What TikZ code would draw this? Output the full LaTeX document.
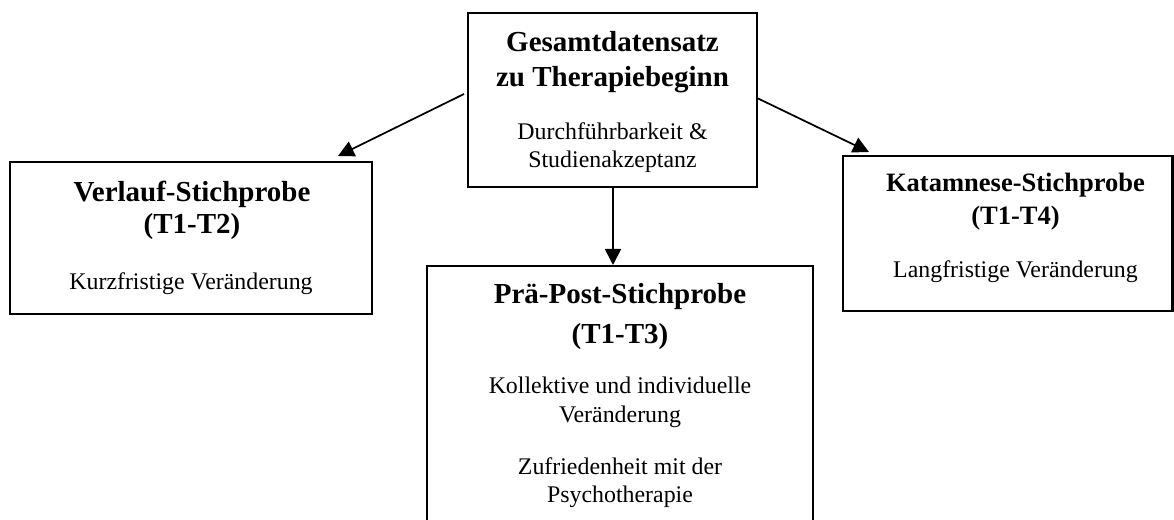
\documentclass[tikz,border=0pt]{standalone}
\usepackage{fontspec}
\setmainfont{Liberation Serif}
\usetikzlibrary{fit,calc,arrows.meta}
\tikzset{
  box/.style={draw=black, line width=1.6pt, inner sep=0pt, outer sep=0pt},
  conn/.style={line width=1.3pt, -{Triangle[length=12pt,width=12pt]}},
  bt/.style={font=\fontsize{21.75}{26}\selectfont\bfseries, anchor=base, inner sep=0pt},
  bts/.style={font=\fontsize{19.9}{24}\selectfont\bfseries, anchor=base, inner sep=0pt},
  nt/.style={font=\fontsize{17.9}{21}\selectfont, anchor=base, inner sep=0pt}
}
\begin{document}
\begin{tikzpicture}[x=0.75pt, y=-0.75pt]
\useasboundingbox (0,0) rectangle (1174,520);
\clip (0,0) rectangle (1174,520);
% boxes
\node[box, fit={(468,13) (757,187)}] (top) {};
\node[box, fit={(10,162) (372,314)}] (left) {};
\node[box, fit={(843,156) (1172.5,311)}] (right) {};
\node[box, fit={(427,266) (813,540)}] (mid) {};
% top texts
\node[bt] (t1) at (612.5,52) {Gesamtdatensatz};
\node[bt] (t2) at (612.5,87) {zu Therapiebeginn};
\node[nt] (t3) at (612.5,140) {Durchführbarkeit \&};
\node[nt] (t4) at (612.5,168) {Studienakzeptanz};
% left texts
\node[bt] (l1) at (192,202) {Verlauf-Stichprobe};
\node[bt] (l2) at (192,234) {(T1-T2)};
\node[nt] (l3) at (191,290) {Kurzfristige Veränderung};
% right texts
\node[bts] (r1) at (1015.5,192) {Katamnese-Stichprobe};
\node[bts] (r2) at (1015.5,225) {(T1-T4)};
\node[nt] (r3) at (1015.5,277) {Langfristige Veränderung};
% middle texts
\node[bt] (m1) at (620,304) {Prä-Post-Stichprobe};
\node[bt] (m2) at (620,343) {(T1-T3)};
\node[nt] (m3) at (620,393) {Kollektive und individuelle};
\node[nt] (m4) at (620,422) {Veränderung};
\node[nt] (m5) at (620,474) {Zufriedenheit mit der};
\node[nt] (m6) at (620,502) {Psychotherapie};
% connectors
\draw[conn] ($(top.north west)+(-4,81)$) -- ($(left.north east)+(-34,-6)$);
\draw[conn] ($(top.north east)+(0,85)$) -- ($(right.north west)+(26,-4)$);
\draw[conn] ($(top.south)+(0.5,1)$) -- ($(mid.north west)+(186,-1)$);
\end{tikzpicture}
\end{document}
